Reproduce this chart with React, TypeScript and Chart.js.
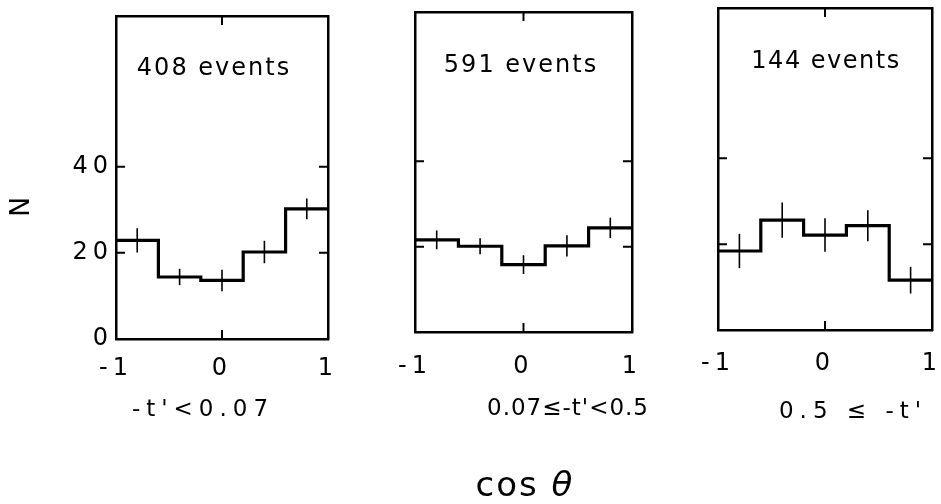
import React, { useEffect, useRef } from "react";
import { Chart, registerables } from "chart.js";

Chart.register(...registerables);

// ---------------- data ----------------
const binEdges = [-1, -0.6, -0.2, 0.2, 0.6, 1];
const binCenters = [-0.8, -0.4, 0, 0.4, 0.8];

const countsLowT = [22.9, 14.4, 13.6, 20.2, 30.2];
const errorsLowT = [2.8, 1.9, 2.5, 2.6, 2.4];

const countsMidT = [21.6, 20.1, 15.8, 20.2, 24.4];
const errorsMidT = [2.2, 1.9, 2.2, 2.5, 2.4];

const countsHighT = [18.4, 25.6, 22.1, 24.3, 11.6];
const errorsHighT = [4.0, 4.1, 3.9, 3.6, 3.1];

const eventLabels = ["408 events", "591 events", "144 events"];
const tRangeLabels = ["-t'<0.07", "0.07≤-t'<0.5", "0.5 ≤ -t'"];

const xTickValues = [-1, 0, 1];
const yTickValues = [0, 20, 40];
const xInnerTickValues = [0];
const yInnerTickValues = [20, 40];
const xMin = -1;
const xMax = 1;
const yMin = 0;
const yMax = 75;

const yAxisTitle = "N";
const xAxisTitleText = "cos ";
const xAxisTitleSymbol = "θ";

// ---------------- layout / style ----------------
const FONT = "'DejaVu Sans', sans-serif";
const CANVAS_H = 504;

const panelSeries = [
  { counts: countsLowT, errors: errorsLowT },
  { counts: countsMidT, errors: errorsMidT },
  { counts: countsHighT, errors: errorsHighT },
];

const panelLayout = [
  {
    canvasLeft: 0, canvasWidth: 345,
    area: { left: 116, top: 16, right: 328, bottom: 339 },
    tickPad: 15, showYLabels: true,
    events: { x: 214, y: 69, spacing: 2 },
    sub: { x: 203, y: 410, spacing: 6 },
  },
  {
    canvasLeft: 360, canvasWidth: 300,
    area: { left: 415, top: 12, right: 632, bottom: 332 },
    tickPad: 20, showYLabels: false,
    events: { x: 521, y: 66, spacing: 2 },
    sub: { x: 568, y: 409, spacing: 1 },
  },
  {
    canvasLeft: 665, canvasWidth: 300,
    area: { left: 718, top: 8, right: 932, bottom: 330 },
    tickPad: 19, showYLabels: false,
    events: { x: 826, y: 62, spacing: 1.5 },
    sub: { x: 853, y: 412, spacing: 6 },
  },
];

type TextItem = { text: string; x: number; y: number; size: number; spacing: number; rotate?: number };

function makeTextPlugin(items: TextItem[], offsetX: number) {
  return {
    id: "panelText",
    afterDraw(chart: any) {
      const ctx = chart.ctx;
      for (const it of items) {
        ctx.save();
        ctx.font = `${it.size}px ${FONT}`;
        (ctx as any).letterSpacing = `${it.spacing}px`;
        ctx.fillStyle = "#000";
        ctx.textAlign = "center";
        ctx.textBaseline = "middle";
        ctx.translate(it.x - offsetX, it.y);
        if (it.rotate) ctx.rotate(it.rotate);
        ctx.fillText(it.text, 0, 0);
        ctx.restore();
      }
    },
  };
}

const innerTicksPlugin = {
  id: "innerTicks",
  afterDatasetsDraw(chart: any) {
    const { ctx, chartArea: a, scales } = chart;
    const len = 9;
    ctx.save();
    ctx.strokeStyle = "#000";
    ctx.lineWidth = 2;
    ctx.beginPath();
    for (const v of yInnerTickValues) {
      const py = scales.y.getPixelForValue(v);
      ctx.moveTo(a.left, py);
      ctx.lineTo(a.left + len, py);
      ctx.moveTo(a.right, py);
      ctx.lineTo(a.right - len, py);
    }
    for (const v of xInnerTickValues) {
      const px = scales.x.getPixelForValue(v);
      ctx.moveTo(px, a.top);
      ctx.lineTo(px, a.top + len);
      ctx.moveTo(px, a.bottom);
      ctx.lineTo(px, a.bottom - len);
    }
    ctx.stroke();
    ctx.restore();
  },
};

const spacingPlugin = {
  id: "tickSpacing",
  beforeDraw(chart: any) {
    (chart.ctx as any).letterSpacing = "5px";
  },
};

function buildChart(canvas: HTMLCanvasElement, idx: number) {
  const L = panelLayout[idx];
  const { counts, errors } = panelSeries[idx];
  const border = { display: true, color: "#000", width: 2.5 };
  const tickFont = { family: FONT, size: 24 };

  const histPoints = counts.flatMap((v, i) => [
    { x: binEdges[i], y: v },
    { x: binEdges[i + 1], y: v },
  ]);

  const datasets: any[] = [
    {
      data: histPoints,
      borderColor: "#000",
      borderWidth: 3.2,
      pointRadius: 0,
      fill: false,
      tension: 0,
      borderJoinStyle: "miter",
    },
    ...binCenters.map((c, i) => ({
      data: [
        { x: c, y: counts[i] - errors[i] },
        { x: c, y: counts[i] + errors[i] },
      ],
      borderColor: "#000",
      borderWidth: 1.6,
      pointRadius: 0,
      fill: false,
    })),
  ];

  const items: TextItem[] = [
    { text: eventLabels[idx], x: L.events.x, y: L.events.y, size: 24, spacing: L.events.spacing },
    { text: tRangeLabels[idx], x: L.sub.x, y: L.sub.y, size: 23, spacing: L.sub.spacing },
  ];
  if (idx === 0) {
    items.push({ text: yAxisTitle, x: 22, y: 207, size: 27, spacing: 0, rotate: -Math.PI / 2 });
  }

  return new Chart(canvas, {
    type: "line",
    data: { datasets },
    options: {
      animation: false,
      responsive: false,
      devicePixelRatio: 1,
      layout: { padding: 0 },
      plugins: { legend: { display: false }, tooltip: { enabled: false }, title: { display: false } },
      scales: {
        x: {
          type: "linear",
          position: "bottom",
          min: xMin,
          max: xMax,
          afterBuildTicks: (s: any) => {
            s.ticks = xTickValues.map((v) => ({ value: v }));
          },
          ticks: {
            font: tickFont,
            color: "#000",
            padding: L.tickPad,
            maxRotation: 0,
            autoSkip: false,
            callback: (v: any) => String(v),
          },
          grid: { display: false, drawTicks: false },
          border,
          afterFit: (s: any) => {
            s.height = CANVAS_H - L.area.bottom;
            s.paddingLeft = 0;
            s.paddingRight = 0;
          },
        },
        x2: {
          type: "linear",
          position: "top",
          min: xMin,
          max: xMax,
          ticks: { display: false },
          grid: { display: false, drawTicks: false },
          border,
          afterFit: (s: any) => {
            s.height = L.area.top;
            s.paddingLeft = 0;
            s.paddingRight = 0;
          },
        },
        y: {
          type: "linear",
          position: "left",
          min: yMin,
          max: yMax,
          afterBuildTicks: (s: any) => {
            s.ticks = yTickValues.map((v) => ({ value: v }));
          },
          ticks: {
            display: L.showYLabels,
            font: tickFont,
            color: "#000",
            padding: 3,
            callback: (v: any) => String(v),
          },
          grid: { display: false, drawTicks: false },
          border,
          afterFit: (s: any) => {
            s.width = L.area.left - L.canvasLeft;
            s.paddingTop = 0;
            s.paddingBottom = 0;
          },
        },
        y2: {
          type: "linear",
          position: "right",
          min: yMin,
          max: yMax,
          ticks: { display: false },
          grid: { display: false, drawTicks: false },
          border,
          afterFit: (s: any) => {
            s.width = L.canvasLeft + L.canvasWidth - L.area.right;
            s.paddingTop = 0;
            s.paddingBottom = 0;
          },
        },
      },
    } as any,
    plugins: [spacingPlugin, innerTicksPlugin, makeTextPlugin(items, L.canvasLeft)],
  });
}

export default function App() {
  const r0 = useRef<HTMLCanvasElement>(null);
  const r1 = useRef<HTMLCanvasElement>(null);
  const r2 = useRef<HTMLCanvasElement>(null);

  useEffect(() => {
    const refs = [r0, r1, r2];
    const charts = refs.map((r, i) => buildChart(r.current as HTMLCanvasElement, i));
    return () => charts.forEach((c) => c.destroy());
  }, []);

  const refs = [r0, r1, r2];

  return (
    <div
      style={{
        position: "fixed",
        left: 0,
        top: 0,
        width: 941,
        height: 504,
        overflow: "hidden",
        background: "#fff",
      }}
    >
      {panelLayout.map((L, i) => (
        <canvas
          key={i}
          ref={refs[i]}
          width={L.canvasWidth}
          height={CANVAS_H}
          style={{
            position: "absolute",
            left: L.canvasLeft,
            top: 0,
            width: L.canvasWidth,
            height: CANVAS_H,
          }}
        />
      ))}
      <div
        style={{
          position: "absolute",
          left: 525,
          top: 484,
          transform: "translate(-50%, -50%)",
          fontFamily: FONT,
          fontSize: 34,
          lineHeight: 1,
          whiteSpace: "nowrap",
          color: "#000",
          letterSpacing: "2px",
        }}
      >
        {xAxisTitleText}
        <i>{xAxisTitleSymbol}</i>
      </div>
    </div>
  );
}
